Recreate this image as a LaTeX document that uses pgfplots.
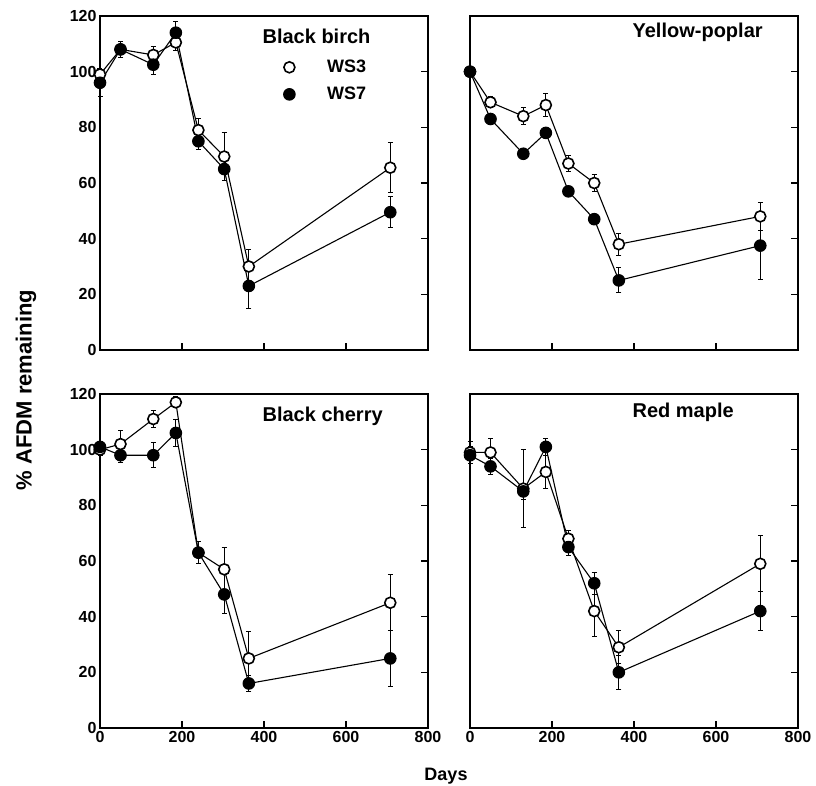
\documentclass[border=0pt]{standalone}
\usepackage{fontspec}
\setmainfont{Liberation Sans}
\usepackage{pgfplots}
\pgfplotsset{compat=1.18}
\pgfplotsset{
 panel/.style={
  width=328pt, height=334pt, scale only axis,
  xmin=0, xmax=800, ymin=0, ymax=120,
  xtick={0,200,...,800}, ytick={0,20,...,120},
  xtick pos=bottom, ytick pos=right, yticklabel pos=left,
  tick align=inside, major tick length=7pt,
  axis line style={line width=1.6pt},
  every tick/.style={line width=1.2pt, black},
  tick label style={font=\fontsize{16}{16}\selectfont\bfseries},
  /pgf/number format/assume math mode=true,
  clip=false,
  legend image code/.code={\draw[#1, only marks] plot coordinates {(0.25cm,0cm)};},
 },
 ws3/.style={black, line width=1.1pt, mark=*, mark size=5.5pt,
   mark options={fill=white, line width=1.6pt, solid},
   error bars/.cd, y dir=both, y explicit,
   error bar style={line width=1pt}, error mark=-, error mark options={rotate=90, mark size=2.5pt, line width=1pt}},
 ws7/.style={black, line width=1.1pt, mark=*, mark size=5.8pt,
   mark options={fill=black, line width=1pt, solid},
   error bars/.cd, y dir=both, y explicit,
   error bar style={line width=1pt}, error mark=-, error mark options={rotate=90, mark size=2.5pt, line width=1pt}},
}
\tikzset{ttl/.style={anchor=west, font=\fontsize{20}{20}\selectfont\bfseries}}
\begin{document}
\begin{tikzpicture}
\path[use as bounding box] (0pt,0pt) rectangle (816pt,786pt);
% Black birch
\begin{axis}[panel, at={(100pt,436pt)}, anchor=south west, xticklabels={},
  legend style={draw=none, fill=none, at={(rel axis cs:0.55,0.88)}, anchor=north west,
    font=\fontsize{18}{18}\selectfont\bfseries, row sep=9pt, legend cell align=left}]
\addplot[ws3] coordinates {(0,99)+-(0,2) (50,108)+-(0,3) (130,106)+-(0,3) (185,110.5)+-(0,3) (240,79)+-(0,4) (303,69.5)+-(0,8.5) (363,30)+-(0,6) (708,65.5)+-(0,9)};
\addlegendentry{\hspace{30pt}WS3}
\addplot[ws7] coordinates {(0,96)+-(0,5) (50,108)+-(0,3) (130,102.5)+-(0,3.5) (185,114)+-(0,4) (240,75)+-(0,3) (303,65)+-(0,4) (363,23)+-(0,8) (708,49.5)+-(0,5.5)};
\addlegendentry{\hspace{30pt}WS7}
\node[ttl] at (rel axis cs:0.485,0.94) {Black birch};
\end{axis}
% Yellow-poplar
\begin{axis}[panel, at={(470pt,436pt)}, anchor=south west, xticklabels={}, yticklabels={}]
\addplot[ws3] coordinates {(0,100)+-(0,1) (50,89)+-(0,2) (130,84)+-(0,3) (185,88)+-(0,4) (240,67)+-(0,3) (303,60)+-(0,3) (363,38)+-(0,4) (708,48)+-(0,5)};
\addplot[ws7] coordinates {(0,100)+-(0,1) (50,83)+-(0,1.5) (130,70.5)+-(0,1) (185,78)+-(0,1.5) (240,57)+-(0,1) (303,47)+-(0,1.5) (363,25)+-(0,4.5) (708,37.5)+-(0,12)};
\node[ttl] at (rel axis cs:0.485,0.95) {Yellow-poplar};
\end{axis}
% Black cherry
\begin{axis}[panel, at={(100pt,58pt)}, anchor=south west]
\addplot[ws3] coordinates {(0,100)+-(0,2) (50,102)+-(0,5) (130,111)+-(0,3) (185,117)+-(0,2) (240,63)+-(0,4) (303,57)+-(0,8) (363,25)+-(0,9.5) (708,45)+-(0,10)};
\addplot[ws7] coordinates {(0,101)+-(0,2) (50,98)+-(0,2.5) (130,98)+-(0,4.5) (185,106)+-(0,5) (240,63)+-(0,4) (303,48)+-(0,7) (363,16)+-(0,3) (708,25)+-(0,10)};
\node[ttl] at (rel axis cs:0.485,0.934) {Black cherry};
\end{axis}
% Red maple
\begin{axis}[panel, at={(470pt,58pt)}, anchor=south west, yticklabels={}]
\addplot[ws3] coordinates {(0,99)+-(0,4) (50,99)+-(0,5) (130,86)+-(0,14) (185,92)+-(0,6) (240,68)+-(0,3) (303,42)+-(0,9) (363,29)+-(0,6) (708,59)+-(0,10)};
\addplot[ws7] coordinates {(0,98)+-(0,3) (50,94)+-(0,3) (130,85)+-(0,3) (185,101)+-(0,3) (240,65)+-(0,3) (303,52)+-(0,4) (363,20)+-(0,6) (708,42)+-(0,7)};
\node[ttl] at (rel axis cs:0.485,0.946) {Red maple};
\end{axis}
\node[rotate=90, font=\fontsize{22}{22}\selectfont\bfseries] at (26pt,396pt) {\% AFDM remaining};
\node[anchor=base, font=\fontsize{18}{18}\selectfont\bfseries] at (446pt,5pt) {Days};
\end{tikzpicture}
\end{document}
